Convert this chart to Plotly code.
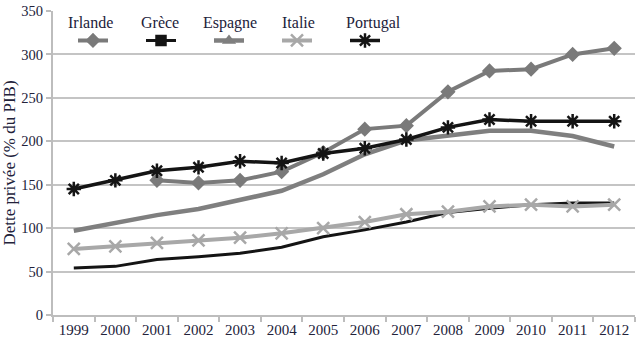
import plotly.graph_objects as go

years = [str(y) for y in range(1999, 2013)]
irlande = [None, None, 155, 152, 155, 165, 187, 214, 218, 257, 281, 283, 300, 307]
grece = [54, 56, 64, 67, 71, 78, 90, 98, 107, 118, 123, 127, 129, 129]
espagne = [97, 106, 115, 122, 132, 143, 162, 185, 201, 206, 212, 212, 206, 194]
italie = [76, 79, 83, 86, 89, 94, 100, 107, 116, 119, 125, 127, 125, 127]
portugal = [145, 155, 166, 170, 177, 175, 186, 192, 202, 216, 225, 223, 223, 223]
names = ["Irlande", "Grèce", "Espagne", "Italie", "Portugal"]

FONT = "Liberation Serif"
TXT = "#22223a"

styles = {
    "Irlande": dict(color="#7a7a7a", width=4, symbol="diamond", size=9, mode="lines+markers", data=irlande),
    "Grèce": dict(color="#141414", width=3, symbol="square", size=9, mode="lines", data=grece),
    "Espagne": dict(color="#7f7f7f", width=4.5, symbol="triangle-up", size=8, mode="lines", data=espagne),
    "Italie": dict(color="#a8a8a8", width=4, symbol="x-thin-open", size=12, mode="lines+markers", data=italie),
    "Portugal": dict(color="#141414", width=3.5, symbol="asterisk-open", size=12, mode="lines+markers", data=portugal),
}

fig = go.Figure()
draw_order = ["Espagne", "Grèce", "Italie", "Irlande", "Portugal"]
for n in draw_order:
    s = styles[n]
    fig.add_trace(go.Scatter(
        x=years, y=s["data"], mode=s["mode"], showlegend=False,
        line=dict(color=s["color"], width=s["width"]),
        marker=dict(symbol=s["symbol"], size=s["size"], color=s["color"],
                    line=dict(color=s["color"], width=2.5)),
    ))
# legend proxies (symbol under each name)
for n in names:
    s = styles[n]
    fig.add_trace(go.Scatter(
        x=[None], y=[None], mode="lines+markers", name=" ", legendgroup=n,
        line=dict(color=s["color"], width=s["width"]),
        marker=dict(symbol=s["symbol"], size=s["size"], color=s["color"],
                    line=dict(color=s["color"], width=2.5)),
    ))

legend_x = [90, 160, 230, 298, 373]
W, H = 638, 341
ml, mr, mt, mb = 53, 3, 8, 19
pw = W - ml - mr
ph = H - mt - mb
for n, cx in zip(names, legend_x):
    fig.add_annotation(
        x=(cx - ml) / pw, xref="paper", y=1 - (20 - mt) / ph, yref="paper",
        text=n, showarrow=False, font=dict(family=FONT, size=16, color=TXT),
        xanchor="center", yanchor="middle",
    )

fig.update_layout(
    width=W, height=H,
    margin=dict(l=ml, r=mr, t=mt, b=mb),
    paper_bgcolor="white", plot_bgcolor="white",
    font=dict(family=FONT, size=13, color=TXT),
    showlegend=True,
    legend=dict(orientation="h", x=(73 - ml) / pw, xanchor="left",
                y=1 - (23 - mt) / ph, yanchor="top",
                entrywidth=23, entrywidthmode="pixels",
                bgcolor="rgba(0,0,0,0)", font=dict(size=13), itemclick=False),
    xaxis=dict(type="category", range=[-0.5, 13.5], showgrid=False,
               showline=True, linecolor="#bdbdbd", linewidth=2,
               ticks="outside", tickson="boundaries", ticklen=5, tickwidth=1.5,
               tickcolor="#bdbdbd", tickfont=dict(family=FONT, size=15, color=TXT)),
    yaxis=dict(range=[0, 350], dtick=50, showgrid=True, gridcolor="#c4c4c4", gridwidth=1.8,
               showline=True, linecolor="#bdbdbd", linewidth=2, zeroline=False,
               ticks="outside", ticklen=5, tickwidth=1.5, tickcolor="#bdbdbd",
               tickfont=dict(family=FONT, size=14.5, color=TXT),
               title=dict(text="Dette privée (% du PIB)", standoff=4,
                          font=dict(family=FONT, size=17, color=TXT))),
)

fig.write_html("out.html")
